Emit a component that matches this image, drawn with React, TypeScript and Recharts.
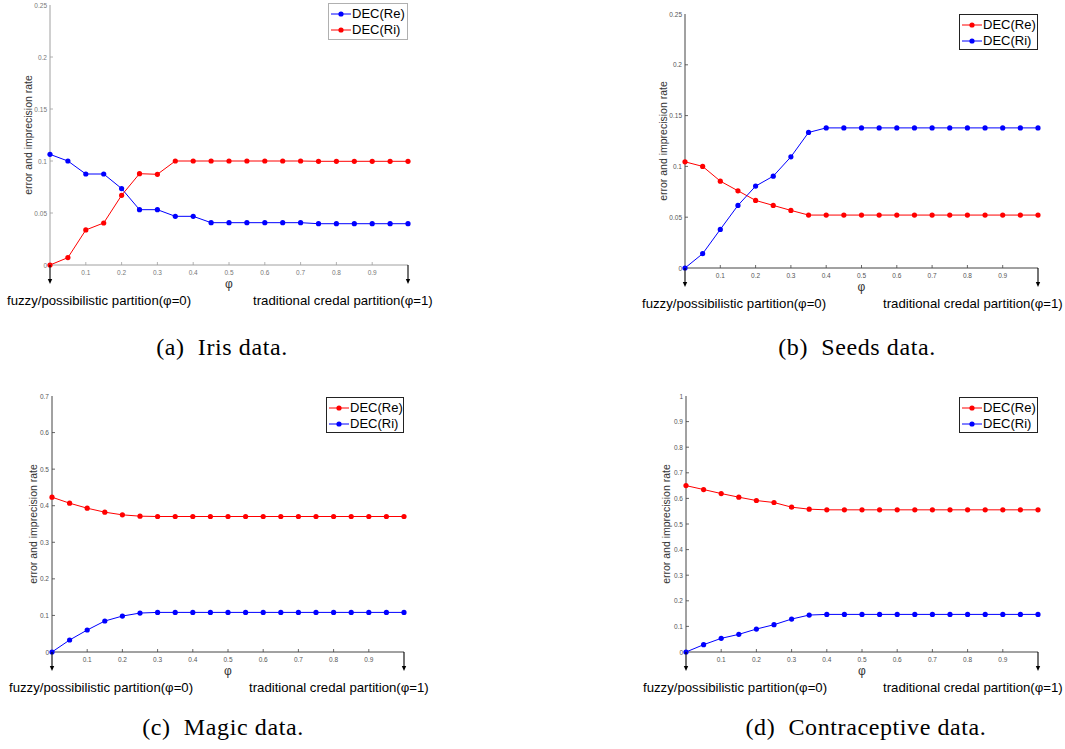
import React from 'react';
import { LineChart, Line, XAxis, YAxis, Legend } from 'recharts';

const phi = [0, 0.05, 0.1, 0.15, 0.2, 0.25, 0.3, 0.35, 0.4, 0.45, 0.5, 0.55, 0.6, 0.65, 0.7, 0.75, 0.8, 0.85, 0.9, 0.95, 1];

const irisRe = [0.1064, 0.1, 0.0875, 0.0875, 0.0735, 0.0532, 0.0532, 0.0468, 0.0468, 0.0407, 0.0407, 0.0407, 0.0407, 0.0407, 0.0407, 0.0397, 0.0397, 0.0397, 0.0397, 0.0397, 0.0397];
const irisRi = [0, 0.0071, 0.0337, 0.0404, 0.067, 0.0878, 0.0872, 0.1, 0.1, 0.1, 0.1, 0.1, 0.1, 0.1, 0.1, 0.0997, 0.0997, 0.0997, 0.0997, 0.0997, 0.0997];

const seedsRe = [0.1045, 0.1, 0.0855, 0.076, 0.0665, 0.0616, 0.0567, 0.0521, 0.0521, 0.0521, 0.0521, 0.0521, 0.0521, 0.0521, 0.0521, 0.0521, 0.0521, 0.0521, 0.0521, 0.0521, 0.0521];
const seedsRi = [0, 0.0141, 0.038, 0.0616, 0.0806, 0.0904, 0.1094, 0.1334, 0.1379, 0.1379, 0.1379, 0.1379, 0.1379, 0.1379, 0.1379, 0.1379, 0.1379, 0.1379, 0.1379, 0.1379, 0.1379];

const magicRe = [0.4233, 0.4069, 0.3932, 0.3823, 0.375, 0.3714, 0.3705, 0.3705, 0.3705, 0.3705, 0.3705, 0.3705, 0.3705, 0.3705, 0.3705, 0.3705, 0.3705, 0.3705, 0.3705, 0.3705, 0.3705];
const magicRi = [0, 0.0328, 0.0601, 0.0847, 0.0983, 0.1065, 0.1083, 0.1083, 0.1083, 0.1083, 0.1083, 0.1083, 0.1083, 0.1083, 0.1083, 0.1083, 0.1083, 0.1083, 0.1083, 0.1083, 0.1083];

const contraRe = [0.65, 0.6346, 0.619, 0.6047, 0.5917, 0.5839, 0.5657, 0.5579, 0.5553, 0.5553, 0.5553, 0.5553, 0.5553, 0.5553, 0.5553, 0.5553, 0.5553, 0.5553, 0.5553, 0.5553, 0.5553];
const contraRi = [0, 0.0286, 0.0533, 0.0689, 0.0897, 0.1066, 0.1287, 0.1443, 0.1469, 0.1469, 0.1469, 0.1469, 0.1469, 0.1469, 0.1469, 0.1469, 0.1469, 0.1469, 0.1469, 0.1469, 0.1469];

const xTicks = [0, 0.1, 0.2, 0.3, 0.4, 0.5, 0.6, 0.7, 0.8, 0.9, 1];
const yTicksSmall = [0, 0.05, 0.1, 0.15, 0.2, 0.25];
const yTicksMagic = [0, 0.1, 0.2, 0.3, 0.4, 0.5, 0.6, 0.7];
const yTicksContra = [0, 0.1, 0.2, 0.3, 0.4, 0.5, 0.6, 0.7, 0.8, 0.9, 1];

const seriesNames = ['DEC(Re)', 'DEC(Ri)'];
const leftNote = 'fuzzy/possibilistic partition(φ=0)';
const rightNote = 'traditional credal partition(φ=1)';
const yTitle = 'error and imprecision rate';
const xTitle = 'φ';
const captions = ['(a)  Iris data.', '(b)  Seeds data.', '(c)  Magic data.', '(d)  Contraceptive data.'];

const RED = '#ff0000';
const BLUE = '#0000ff';
const FONT = '"Liberation Sans", Arial, Helvetica, sans-serif';
const SERIF = '"Liberation Serif", "Times New Roman", serif';

const buildRows = (re: number[], ri: number[]) => phi.map((p, i) => ({ phi: p, re: re[i], ri: ri[i] }));

type Rect = { x0: number; x1: number; y0: number; y1: number };
type Box = { x: number; y: number; w: number; h: number };

type PanelProps = {
  left: number; top: number; width: number; height: number;
  plot: Rect;
  rows: any[];
  reColor: string; riColor: string; reFirst: boolean;
  yTicks: number[]; yMax: number;
  boxColor: string; tickColor: string; legendBorder: string;
  legend: Box;
  yTitleGap: number;
};

const YW = 30;
const XH = 30;

function Panel(p: PanelProps) {
  const margin = {
    top: p.plot.y0 - p.top,
    right: p.left + p.width - p.plot.x1,
    bottom: p.top + p.height - p.plot.y1 - XH,
    left: p.plot.x0 - p.left - YW,
  };

  const bottomTick = (t: any) => {
    const { x, y, payload } = t;
    const v = payload.value;
    if (v === 0 || v === 1) {
      const tip = y + 19;
      return (
        <g>
          <line x1={x} x2={x} y1={y} y2={tip - 3} stroke="#000" strokeWidth={1.1} />
          <polygon points={`${x - 2.2},${tip - 5} ${x + 2.2},${tip - 5} ${x},${tip}`} fill="#000" />
          <text
            x={v === 0 ? x - 43 : x - 155}
            y={y + 35}
            textAnchor="start"
            dominantBaseline="central"
            fontFamily={FONT}
            fontSize={13.2}
            fill="#000"
          >
            {v === 0 ? leftNote : rightNote}
          </text>
        </g>
      );
    }
    return (
      <g>
        <line x1={x} x2={x} y1={y} y2={y - 3} stroke={p.boxColor} strokeWidth={0.8} />
        <text x={x} y={y + 7} textAnchor="middle" dominantBaseline="central" fontFamily={FONT} fontSize={6.5} fill={p.tickColor}>
          {String(v)}
        </text>
      </g>
    );
  };

  const topTick = (t: any) => {
    const { x, y, payload } = t;
    const v = payload.value;
    if (v === 0 || v === 1) return <g />;
    return <line x1={x} x2={x} y1={y} y2={y + 3} stroke={p.boxColor} strokeWidth={0.8} />;
  };

  const leftTick = (t: any) => {
    const { x, y, payload } = t;
    const v = payload.value;
    return (
      <g>
        {v !== 0 && v !== p.yMax ? <line x1={x} x2={x + 3} y1={y} y2={y} stroke={p.boxColor} strokeWidth={0.8} /> : null}
        <text x={x - 3} y={y} textAnchor="end" dominantBaseline="central" fontFamily={FONT} fontSize={6.5} fill={p.tickColor}>
          {String(v)}
        </text>
      </g>
    );
  };

  const rightTick = (t: any) => {
    const { x, y, payload } = t;
    const v = payload.value;
    if (v === 0 || v === p.yMax) return <g />;
    return <line x1={x} x2={x - 3} y1={y} y2={y} stroke={p.boxColor} strokeWidth={0.8} />;
  };

  const yLabel = (lp: any) => {
    const vb = lp.viewBox || {};
    const cx = vb.x + vb.width - p.yTitleGap;
    const cy = vb.y + vb.height / 2;
    return (
      <text x={cx} y={cy} transform={`rotate(-90, ${cx}, ${cy})`} textAnchor="middle" dominantBaseline="central" fontFamily={FONT} fontSize={10.5} fill="#333">
        {yTitle}
      </text>
    );
  };

  const xLabel = (lp: any) => {
    const vb = lp.viewBox || {};
    const cx = vb.x + vb.width / 2;
    const cy = vb.y + 19;
    return (
      <text x={cx} y={cy} textAnchor="middle" dominantBaseline="central" fontFamily={FONT} fontSize={12} fill="#333">
        {xTitle}
      </text>
    );
  };

  const legendContent = (lp: any) => {
    const items = lp.payload || [];
    return (
      <div
        style={{
          width: p.legend.w,
          height: p.legend.h,
          boxSizing: 'border-box',
          border: `1px solid ${p.legendBorder}`,
          background: '#fff',
          fontFamily: FONT,
          fontSize: 13,
          color: '#000',
        }}
      >
        {items.map((it: any, i: number) => (
          <div key={i} style={{ display: 'flex', alignItems: 'center', height: 16, marginTop: i === 0 ? 2 : 0 }}>
            <svg width={22} height={16} style={{ display: 'block', marginLeft: 1 }}>
              <line x1={1} x2={21} y1={8} y2={8} stroke={it.color} strokeWidth={1} />
              <circle cx={11} cy={8} r={2.6} fill={it.color} />
            </svg>
            <span style={{ lineHeight: '16px', whiteSpace: 'nowrap' }}>{it.value}</span>
          </div>
        ))}
      </div>
    );
  };

  const reLine = (
    <Line
      key="re"
      xAxisId="b"
      yAxisId="l"
      type="linear"
      dataKey="re"
      name={seriesNames[0]}
      stroke={p.reColor}
      strokeWidth={1}
      dot={{ r: 2.6, fill: p.reColor, stroke: p.reColor, strokeWidth: 0 }}
      isAnimationActive={false}
    />
  );
  const riLine = (
    <Line
      key="ri"
      xAxisId="b"
      yAxisId="l"
      type="linear"
      dataKey="ri"
      name={seriesNames[1]}
      stroke={p.riColor}
      strokeWidth={1}
      dot={{ r: 2.6, fill: p.riColor, stroke: p.riColor, strokeWidth: 0 }}
      isAnimationActive={false}
    />
  );

  return (
    <div style={{ position: 'absolute', left: p.left, top: p.top, width: p.width, height: p.height }}>
      <LineChart width={p.width} height={p.height} data={p.rows} margin={margin}>
        <XAxis
          xAxisId="b"
          type="number"
          dataKey="phi"
          domain={[0, 1]}
          ticks={xTicks}
          interval={0}
          height={XH}
          tickSize={0}
          tickMargin={0}
          tickLine={false}
          axisLine={{ stroke: p.boxColor }}
          tick={bottomTick}
          label={xLabel}
        />
        <XAxis
          xAxisId="t"
          orientation="top"
          type="number"
          domain={[0, 1]}
          ticks={xTicks}
          interval={0}
          height={0}
          tickSize={0}
          tickMargin={0}
          tickLine={false}
          axisLine={{ stroke: p.boxColor }}
          tick={topTick}
        />
        <YAxis
          yAxisId="l"
          type="number"
          domain={[0, p.yMax]}
          ticks={p.yTicks}
          interval={0}
          width={YW}
          tickSize={0}
          tickMargin={0}
          tickLine={false}
          axisLine={{ stroke: p.boxColor }}
          tick={leftTick}
          label={yLabel}
        />
        <YAxis
          yAxisId="r"
          orientation="right"
          type="number"
          domain={[0, p.yMax]}
          ticks={p.yTicks}
          interval={0}
          width={0}
          tickSize={0}
          tickMargin={0}
          tickLine={false}
          axisLine={{ stroke: p.boxColor }}
          tick={rightTick}
        />
        {p.reFirst ? [reLine, riLine] : [riLine, reLine]}
        <Legend
          layout="vertical"
          align="center"
          verticalAlign="middle"
          wrapperStyle={{ left: p.legend.x - p.left, top: p.legend.y - p.top, width: p.legend.w, height: p.legend.h }}
          content={legendContent}
        />
      </LineChart>
    </div>
  );
}

function Caption({ text, cx, cy }: { text: string; cx: number; cy: number }) {
  return (
    <div
      style={{
        position: 'absolute',
        left: cx - 200,
        top: cy - 15,
        width: 400,
        height: 30,
        lineHeight: '30px',
        textAlign: 'center',
        fontFamily: SERIF,
        fontSize: 24,
        letterSpacing: 0.6,
        color: '#000',
        whiteSpace: 'pre',
      }}
    >
      {text}
    </div>
  );
}

export default function App() {
  return (
    <div style={{ position: 'absolute', left: 0, top: 0, width: 1065, height: 749, background: '#fff', overflow: 'hidden' }}>
      <Panel
        left={0} top={0} width={440} height={320}
        plot={{ x0: 50, x1: 408, y0: 5, y1: 265 }}
        rows={buildRows(irisRe, irisRi)}
        reColor={BLUE} riColor={RED} reFirst={true}
        yTicks={yTicksSmall} yMax={0.25}
        boxColor="#a0a0a0" tickColor="#777" legendBorder="#b0b0b0"
        legend={{ x: 328, y: 3, w: 80, h: 37 }}
        yTitleGap={22}
      />
      <Panel
        left={600} top={0} width={465} height={320}
        plot={{ x0: 685, x1: 1038, y0: 14, y1: 268 }}
        rows={buildRows(seedsRe, seedsRi)}
        reColor={RED} riColor={BLUE} reFirst={true}
        yTicks={yTicksSmall} yMax={0.25}
        boxColor="#444" tickColor="#555" legendBorder="#222"
        legend={{ x: 959, y: 14, w: 79, h: 36 }}
        yTitleGap={22}
      />
      <Panel
        left={0} top={380} width={440} height={320}
        plot={{ x0: 52, x1: 404, y0: 396, y1: 652 }}
        rows={buildRows(magicRe, magicRi)}
        reColor={RED} riColor={BLUE} reFirst={true}
        yTicks={yTicksMagic} yMax={0.7}
        boxColor="#444" tickColor="#555" legendBorder="#222"
        legend={{ x: 326, y: 397, w: 78, h: 36 }}
        yTitleGap={19}
      />
      <Panel
        left={600} top={380} width={465} height={320}
        plot={{ x0: 686, x1: 1038, y0: 396, y1: 652 }}
        rows={buildRows(contraRe, contraRi)}
        reColor={RED} riColor={BLUE} reFirst={true}
        yTicks={yTicksContra} yMax={1}
        boxColor="#444" tickColor="#555" legendBorder="#222"
        legend={{ x: 959, y: 397, w: 79, h: 36 }}
        yTitleGap={20}
      />
      <Caption text={captions[0]} cx={222} cy={347} />
      <Caption text={captions[1]} cx={857} cy={347} />
      <Caption text={captions[2]} cx={223} cy={727} />
      <Caption text={captions[3]} cx={866} cy={727} />
    </div>
  );
}
